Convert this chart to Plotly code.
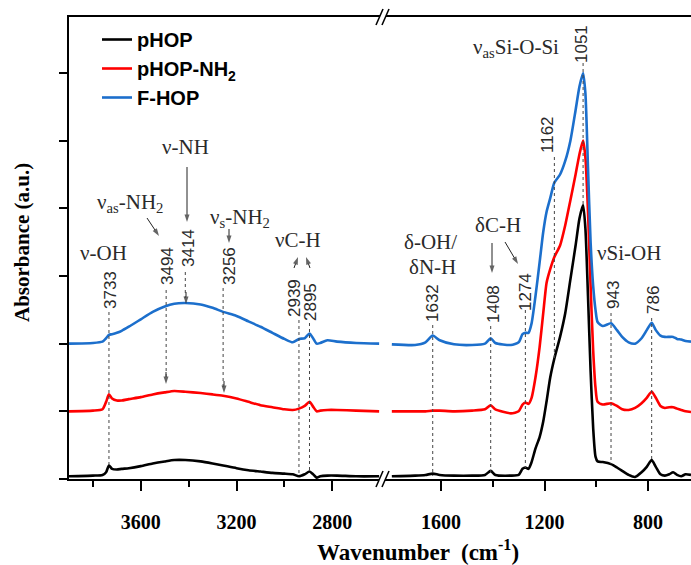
import plotly.graph_objects as go

# ---------------- data ----------------
series_names = ["pHOP", "pHOP-NH<sub>2</sub>", "F-HOP"]
series_colors = ["#000000", "#ff0000", "#1c6fcc"]

wn_left = [3900, 3800, 3760, 3745, 3733, 3720, 3700, 3680, 3650, 3600, 3550, 3500, 3460,
           3414, 3350, 3300, 3256, 3200, 3150, 3100, 3050, 3000, 2965, 2939, 2915, 2895,
           2880, 2865, 2850, 2820, 2780, 2700, 2604]
black_left = [0.04, 0.05, 0.06, 0.10, 0.20, 0.15, 0.14, 0.15, 0.16, 0.19, 0.23, 0.26, 0.28,
              0.28, 0.26, 0.23, 0.20, 0.16, 0.13, 0.11, 0.09, 0.08, 0.07, 0.04, 0.07, 0.11,
              0.07, 0.02, 0.04, 0.05, 0.05, 0.04, 0.04]
red_left = [1.00, 1.01, 1.03, 1.14, 1.25, 1.19, 1.16, 1.16, 1.18, 1.21, 1.25, 1.28, 1.30,
            1.29, 1.27, 1.25, 1.23, 1.19, 1.14, 1.09, 1.06, 1.03, 1.02, 1.04, 1.08, 1.14,
            1.07, 1.00, 1.01, 1.02, 1.02, 1.01, 1.00]
blue_left = [2.00, 2.01, 2.03, 2.08, 2.13, 2.14, 2.16, 2.19, 2.25, 2.36, 2.47, 2.55, 2.59,
             2.60, 2.58, 2.53, 2.47, 2.41, 2.33, 2.25, 2.16, 2.07, 2.02, 2.07, 2.08, 2.15,
             2.08, 2.00, 2.01, 2.05, 2.03, 2.01, 2.00]

wn_right = [1790, 1700, 1660, 1632, 1605, 1550, 1480, 1430, 1408, 1390, 1330, 1300, 1285,
            1274, 1262, 1250, 1235, 1219, 1205, 1192, 1178, 1162, 1140, 1120, 1100, 1080,
            1065, 1051, 1042, 1032, 1022, 1012, 1003, 995, 975, 943, 920, 900, 875, 850,
            825, 805, 786, 770, 752, 735, 718, 703, 688, 672, 655, 634]
black_right = [0.04, 0.05, 0.06, 0.08, 0.06, 0.05, 0.05, 0.06, 0.12, 0.06, 0.05, 0.06, 0.15,
               0.17, 0.15, 0.25, 0.45, 0.62, 0.85, 1.15, 1.50, 1.78, 2.10, 2.45, 2.95, 3.45,
               3.85, 4.05, 3.70, 2.70, 1.60, 0.75, 0.33, 0.26, 0.25, 0.22, 0.17, 0.12, 0.06,
               0.03, 0.10, 0.18, 0.28, 0.18, 0.07, 0.05, 0.07, 0.10, 0.06, 0.04, 0.07, 0.06]
red_right = [1.00, 1.00, 1.00, 1.01, 1.01, 1.00, 1.01, 1.03, 1.09, 1.03, 0.97, 1.00, 1.10,
             1.13, 1.11, 1.20, 1.50, 1.95, 2.45, 2.90, 3.10, 3.28, 3.45, 3.75, 4.12, 4.50,
             4.80, 5.00, 4.75, 3.95, 2.85, 1.90, 1.35, 1.14, 1.10, 1.12, 1.08, 1.03, 1.02,
             1.05, 1.12, 1.20, 1.29, 1.20, 1.08, 1.05, 1.06, 1.06, 1.04, 1.02, 1.00, 0.99]
blue_right = [1.99, 1.98, 2.02, 2.12, 2.05, 1.99, 1.98, 2.00, 2.08, 2.01, 1.98, 2.02, 2.14,
              2.16, 2.16, 2.30, 2.70, 3.20, 3.65, 3.95, 4.15, 4.38, 4.50, 4.70, 5.00, 5.45,
              5.80, 6.00, 5.70, 4.60, 3.50, 2.85, 2.50, 2.32, 2.26, 2.30, 2.20, 2.10, 2.02,
              2.00, 2.08, 2.20, 2.31, 2.20, 2.12, 2.10, 2.10, 2.10, 2.07, 2.06, 2.04, 2.03]

left_range = [3900, 2592]
right_range = [1828, 634]
major_left = [3600, 3200, 2800]
minor_left = [3800, 3400, 3000]
major_right = [1600, 1200, 800]
minor_right = [1400, 1000]
y_ticks = [0, 1, 2, 3, 4, 5, 6]

peaks_left = [3733, 3494, 3414, 3256, 2939, 2895]
peaks_right = [1632, 1408, 1274, 1162, 1051, 943, 786]

# ---------------- geometry helpers (pixels -> paper / data) ----------------
L, R, T, B = 69, 691, 17, 479
W, H = R - L, B - T
UNIT = 67.67                      # pixels per y tick step
YMAX = H / UNIT
XBRK = 382
SPLIT = (XBRK - L) / W            # break position in paper x


def px(p):
    return (p - L) / W


def py(p):
    return (B - p) / H


def yv(p):
    return (B - p) / UNIT


def lx(p):
    return left_range[0] - (p - L) * (left_range[0] - left_range[1]) / (XBRK - L)


def rx(p):
    return right_range[0] - (p - XBRK) * (right_range[0] - right_range[1]) / (R - XBRK)


fig = go.Figure()
left_y = [black_left, red_left, blue_left]
right_y = [black_right, red_right, blue_right]
for i in range(3):
    fig.add_trace(go.Scatter(x=wn_left, y=left_y[i], mode="lines", name=series_names[i],
                             legendgroup=str(i), xaxis="x", yaxis="y", hoverinfo="skip",
                             line=dict(color=series_colors[i], width=2.6, shape="spline",
                                       smoothing=0.6)))
for i in range(3):
    fig.add_trace(go.Scatter(x=wn_right, y=right_y[i], mode="lines", name=series_names[i],
                             legendgroup=str(i), showlegend=False, xaxis="x2", yaxis="y",
                             hoverinfo="skip",
                             line=dict(color=series_colors[i], width=2.6, shape="spline",
                                       smoothing=0.6)))

SERIF = "Liberation Serif, Times New Roman, serif"
SANS = "Liberation Sans, Arial, sans-serif"
GRAY = "#2a2a2a"
ARROW = "#222222"

# arrows (tail pixel, tip pixel, panel) drawn as small line+arrowhead traces
arrows = [((147, 218), (159, 236), "L"), ((187, 167), (187, 222), "L"),
          ((229, 229), (229, 243), "L"), ((492, 243), (492, 273), "R"),
          ((505, 242), (518, 264), "R"), ((294, 268), (298, 257), "L"),
          ((310, 268), (306, 257), "L"),
          ((166, 372), (166, 384), "L"), ((186, 292), (186, 304), "L"),
          ((224, 381), (224, 393), "L")]
for (x0, y0), (x1, y1), pn in arrows:
    conv = lx if pn == "L" else rx
    fig.add_trace(go.Scatter(x=[conv(x0), conv(x1)], y=[yv(y0), yv(y1)],
                             mode="lines+markers", showlegend=False, hoverinfo="skip",
                             xaxis="x" if pn == "L" else "x2", yaxis="y",
                             line=dict(color=ARROW, width=1),
                             marker=dict(symbol="arrow", angleref="previous", size=[0, 8],
                                         color=ARROW, line=dict(width=0))))

xcommon = dict(showgrid=False, zeroline=False, showline=True, linewidth=2, linecolor="black",
               mirror=True, ticks="outside", ticklen=10, tickwidth=1.5, tickcolor="black",
               anchor="y", tickfont=dict(family=SERIF, size=20, color="black", weight="bold"),
               ticklabelstandoff=14)

fig.update_layout(
    width=691, height=565, autosize=False,
    margin=dict(l=L, r=0, t=T, b=565 - B, pad=0),
    paper_bgcolor="white", plot_bgcolor="white",
    xaxis=dict(domain=[0, SPLIT], range=left_range, tickmode="array", tickvals=major_left,
               minor=dict(tickvals=minor_left, ticks="outside", ticklen=6, tickwidth=1.5,
                          tickcolor="black"), **xcommon),
    xaxis2=dict(domain=[SPLIT, 1], range=right_range, tickmode="array", tickvals=major_right,
                minor=dict(tickvals=minor_right, ticks="outside", ticklen=6, tickwidth=1.5,
                           tickcolor="black"), **xcommon),
    yaxis=dict(range=[0, YMAX], tickmode="array", tickvals=y_ticks, showticklabels=False,
               ticks="outside", ticklen=8, tickwidth=1.5, tickcolor="black", showgrid=False,
               zeroline=False, showline=True, linewidth=2, linecolor="black", mirror=False),
    legend=dict(x=px(97), y=py(20), xanchor="left", yanchor="top", bgcolor="rgba(0,0,0,0)",
                font=dict(family=SANS, size=20, color="black", weight="bold"),
                tracegroupgap=0, itemwidth=30),
    showlegend=True,
)

ann = []
# axis titles
ann.append(dict(text="Wavenumber  (cm<sup>-1</sup>)", xref="paper", yref="paper",
                x=px(418), y=py(550), xanchor="center", yanchor="middle", showarrow=False,
                font=dict(family=SERIF, size=23, color="black", weight="bold")))
ann.append(dict(text="Absorbance (a.u.)", xref="paper", yref="paper", x=px(22), y=py(243),
                xanchor="center", yanchor="middle", textangle=-90, showarrow=False,
                font=dict(family=SERIF, size=21, color="black", weight="bold")))

# band labels
labels = [
    ("ν-OH", 103, 253), ("ν<sub>as</sub>-NH<sub>2</sub>", 130, 203), ("ν-NH", 185, 147),
    ("ν<sub>s</sub>-NH<sub>2</sub>", 240, 218), ("νC-H", 298, 240), ("δ-OH/", 430, 242),
    ("δN-H", 432, 267), ("δC-H", 498, 225), ("ν<sub>as</sub>Si-O-Si", 516, 48),
    ("νSi-OH", 629, 253),
]
for t, x, y in labels:
    ann.append(dict(text=t, xref="paper", yref="paper", x=px(x), y=py(y), xanchor="center",
                    yanchor="middle", showarrow=False,
                    font=dict(family=SERIF, size=21, color=GRAY)))

# rotated peak numbers
num_pos = {3733: (111, 290), 3494: (167, 266), 3414: (188, 248), 3256: (229, 266),
           2939: (294, 298), 2895: (311, 302), 1632: (432, 303), 1408: (493, 304),
           1274: (525, 292), 1162: (547, 135), 1051: (582, 44), 943: (613, 295),
           786: (653, 300)}
for pk in peaks_left + peaks_right:
    x, y = num_pos[pk]
    ann.append(dict(text=str(pk), xref="paper", yref="paper", x=px(x), y=py(y),
                    xanchor="center", yanchor="middle", textangle=-90, showarrow=False,
                    font=dict(family=SANS, size=17, color=GRAY)))

# dotted guide lines (top pixel, bottom pixel)
guide = {3733: (312, 466), 3494: (290, 378), 3414: (272, 298), 3256: (288, 387),
         2939: (320, 473), 2895: (323, 470), 1632: (325, 476), 1408: (326, 472),
         1274: (310, 468), 1162: (157, 360), 1051: (63, 205), 943: (313, 464),
         786: (318, 460)}
shapes = []
for pk in peaks_left + peaks_right:
    y0, y1 = guide[pk]
    xr = "x" if pk in peaks_left else "x2"
    shapes.append(dict(type="line", xref=xr, yref="y", x0=pk, x1=pk, y0=yv(y0), y1=yv(y1),
                       line=dict(color="#444444", width=1, dash="dot"), layer="above"))

# axis break marks "//" at bottom and top
for yc in (B, T):
    a, b = yc + 8, yc - 8
    shapes.append(dict(type="path", xref="paper", yref="paper",
                       path=f"M {px(376)},{py(a)} L {px(383)},{py(b)} L {px(389)},{py(b)} "
                            f"L {px(382)},{py(a)} Z",
                       fillcolor="white", line=dict(width=0), layer="above"))
    for x0 in (376, 382):
        shapes.append(dict(type="line", xref="paper", yref="paper", x0=px(x0), y0=py(a),
                           x1=px(x0 + 7), y1=py(b), line=dict(color="black", width=1.6),
                           layer="above"))

fig.update_layout(annotations=ann, shapes=shapes)
fig.write_html("out.html", config={"displayModeBar": False},
               post_script="document.body.style.margin='0';document.body.style.padding='0';")
